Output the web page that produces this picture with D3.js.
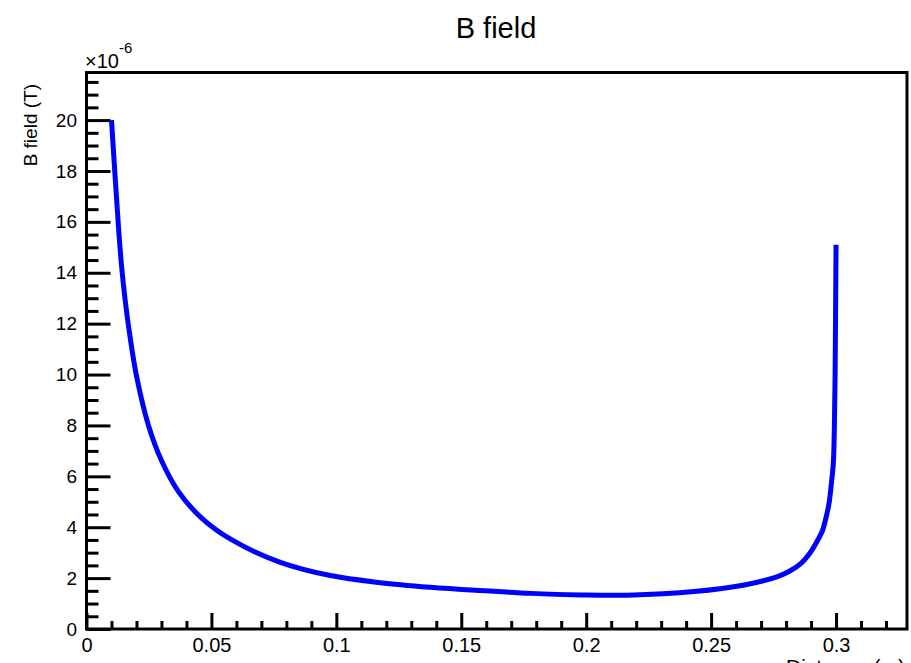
<!DOCTYPE html>
<html>
<head>
<meta charset="utf-8">
<script src="https://cdn.jsdelivr.net/npm/d3@7"></script>
<style>
body { margin:0; background:#fff; }
text { font-family: "Liberation Sans", Arial, Helvetica, sans-serif; }
</style>
</head>
<body>
<svg></svg>
<script>

// distance (m) and field (in units of 1e-6 T)
var distance = [0.0100, 0.0128, 0.0140, 0.0155, 0.0174, 0.0201, 0.0248, 0.0301, 0.0368, 0.0462,
                0.0582, 0.0776, 0.0976, 0.1176, 0.1377, 0.1577, 0.1778, 0.1978, 0.2165, 0.2432,
                0.2633, 0.2766, 0.2815, 0.2860, 0.2895, 0.2927, 0.2945, 0.2958, 0.2972, 0.2980,
                0.2989, 0.2993, 0.2996, 0.3000];
var bField = [20.0, 15.8, 14.3, 12.9, 11.5, 9.9, 8.0, 6.6, 5.4, 4.35,
              3.5, 2.62, 2.10, 1.82, 1.64, 1.51, 1.40, 1.34, 1.33, 1.47,
              1.73, 2.06, 2.28, 2.58, 2.98, 3.50, 3.85, 4.30, 4.95, 5.60,
              6.50, 7.80, 9.80, 15.1];

var xMajor = [0, 0.05, 0.1, 0.15, 0.2, 0.25, 0.3];
var xLabels = ["0", "0.05", "0.1", "0.15", "0.2", "0.25", "0.3"];
var yMajor = [0, 2, 4, 6, 8, 10, 12, 14, 16, 18, 20];

var W = 911, H = 663,
    padL = 86.5, padR = 907, padT = 72.5, padB = 629;

var svg = d3.select("svg")
	.attr("width", W)
	.attr("height", H)

var x = d3.scaleLinear()
	.domain([0, 0.3284])
	.range([padL, padR])
var y = d3.scaleLinear()
	.domain([0, 21.87])
	.range([padB, padT])

var xMinor = d3.range(0, 0.3281, 0.01).filter(function(v){
	return Math.abs(v / 0.05 - Math.round(v / 0.05)) > 1e-6;
});
var yMinor = d3.range(0, 21.87, 0.5).filter(function(v){
	return v % 2 != 0;
});

// minor ticks first
svg.append("g")
	.attr("transform", "translate(0," + padB + ")")
	.call(d3.axisBottom(x).tickValues(xMinor).tickSize(-8).tickFormat(""))
svg.append("g")
	.attr("transform", "translate(" + padL + ",0)")
	.call(d3.axisLeft(y).tickValues(yMinor).tickSize(-12).tickFormat(""))

var gx = svg.append("g")
	.attr("transform", "translate(0," + padB + ")")
	.call(d3.axisBottom(x).tickValues(xMajor).tickSize(-16).tickPadding(9)
		.tickFormat(function(d, i){ return xLabels[i]; }))
var gy = svg.append("g")
	.attr("transform", "translate(" + padL + ",0)")
	.call(d3.axisLeft(y).tickValues(yMajor).tickSize(-24).tickPadding(9.5))

svg.selectAll(".domain").remove();
svg.selectAll(".tick line")
	.attr("stroke", "#000")
	.attr("stroke-width", 3)
gx.selectAll("text")
	.attr("font-size", 20)
	.attr("fill", "#000")
	.style("font-family", '"Liberation Sans", Arial, sans-serif')
gy.selectAll("text")
	.attr("font-size", 19)
	.attr("fill", "#000")
	.style("font-family", '"Liberation Sans", Arial, sans-serif')

// frame
svg.append("rect")
	.attr("x", padL)
	.attr("y", padT)
	.attr("width", padR - padL)
	.attr("height", padB - padT)
	.attr("fill", "none")
	.attr("stroke", "#000")
	.attr("stroke-width", 3)

var line = d3.line()
	.x(function(d, i){ return x(distance[i]); })
	.y(function(d, i){ return y(bField[i]); })
	.curve(d3.curveCatmullRom.alpha(0.5))

svg.append("path")
	.datum(bField)
	.attr("d", line)
	.attr("fill", "none")
	.attr("stroke", "#0000ff")
	.attr("stroke-width", 5)

// titles
svg.append("text")
	.attr("x", 496)
	.attr("y", 38)
	.attr("text-anchor", "middle")
	.attr("font-size", 29)
	.text("B field")

svg.append("text")
	.attr("transform", "translate(37,84) rotate(-90)")
	.attr("text-anchor", "end")
	.attr("font-size", 19)
	.text("B field (T)")

svg.append("text")
	.attr("x", 905)
	.attr("y", 674)
	.attr("text-anchor", "end")
	.attr("font-size", 21)
	.text("Distance (m)")

var expo = svg.append("text")
	.attr("x", 85)
	.attr("y", 68)
	.attr("font-size", 20)
expo.append("tspan").text("\u00d710")
expo.append("tspan")
	.attr("dy", -15)
	.attr("font-size", 15)
	.text("-6")

</script>
</body>
</html>
